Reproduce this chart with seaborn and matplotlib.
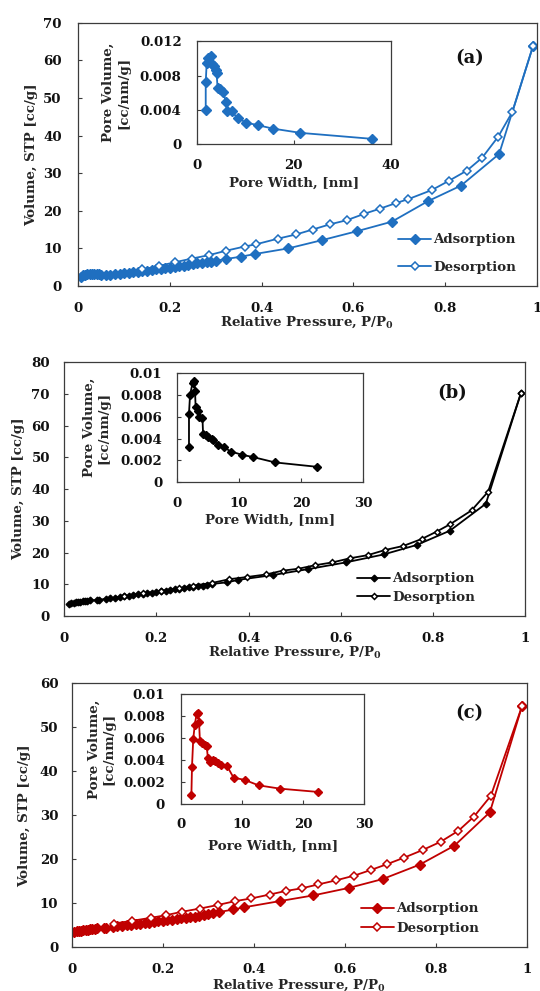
import matplotlib
matplotlib.use("Agg")
import matplotlib.pyplot as plt
import seaborn as sns

# ---------------- data ----------------
x_ticks = [0, 0.2, 0.4, 0.6, 0.8, 1.0]
x_ticklabels = ['0', '0.2', '0.4', '0.6', '0.8', '1']

# Panel (a)
ads_a_p = [0.005, 0.01, 0.015, 0.02, 0.025, 0.03, 0.035, 0.04, 0.045, 0.05,
           0.06, 0.07, 0.08, 0.09, 0.10,
           0.11, 0.12, 0.13, 0.14, 0.15, 0.16, 0.17, 0.18, 0.19, 0.20,
           0.21, 0.22, 0.23, 0.24, 0.25, 0.26, 0.27, 0.28, 0.29, 0.30,
           0.323, 0.355, 0.385, 0.458, 0.532, 0.609, 0.684, 0.762, 0.835, 0.918, 0.992]
ads_a_v = [2.5, 2.8, 3.0, 3.1, 3.2, 3.2, 3.2, 3.2, 3.1, 3.0,
           2.9, 3.0, 3.1, 3.3, 3.4,
           3.5, 3.6, 3.8, 3.9, 4.0, 4.2, 4.4, 4.6, 4.7, 4.9,
           5.1, 5.3, 5.4, 5.6, 5.8, 6.0, 6.2, 6.3, 6.5, 6.7,
           7.2, 7.8, 8.5, 10.0, 12.2, 14.6, 17.1, 22.5, 26.7, 35.1, 63.8]
des_a_p = [0.992, 0.947, 0.916, 0.881, 0.848, 0.809, 0.771, 0.720, 0.692, 0.659,
           0.624, 0.586, 0.549, 0.511, 0.475, 0.436, 0.388, 0.363, 0.323, 0.285,
           0.248, 0.210, 0.175, 0.140]
des_a_v = [63.8, 46.3, 39.7, 34.1, 30.7, 28.0, 25.5, 23.1, 22.0, 20.6,
           19.2, 17.5, 16.4, 15.0, 13.7, 12.6, 11.1, 10.5, 9.4, 8.2,
           7.3, 6.3, 5.3, 4.4]
pore_a_w = [1.86, 1.86, 2.06, 2.4, 2.9, 3.2, 3.6, 3.9, 4.1, 4.3, 4.9, 5.5, 6.0,
            6.3, 7.2, 8.5, 10.2, 12.6, 15.7, 21.4, 36.2]
pore_a_v = [0.0040, 0.0072, 0.0095, 0.0101, 0.0103, 0.0093, 0.0091, 0.0087, 0.0083,
            0.0066, 0.0064, 0.0061, 0.0049, 0.0038, 0.0038, 0.0030, 0.0025, 0.0022,
            0.0018, 0.0013, 0.0006]
y_ticks_a = [0, 10, 20, 30, 40, 50, 60, 70]
in_x_ticks_a = [0, 20, 40]
in_y_ticks_a = [0, 0.004, 0.008, 0.012]
in_y_labels_a = ['0', '0.004', '0.008', '0.012']

# Panel (b)
ads_b_p = [0.01, 0.015, 0.02, 0.025, 0.03, 0.035, 0.04, 0.045, 0.05, 0.055,
           0.07, 0.075, 0.09, 0.10,
           0.11, 0.12, 0.13, 0.14, 0.15, 0.16, 0.17, 0.18, 0.19, 0.20, 0.21,
           0.22, 0.23, 0.24, 0.25, 0.26, 0.27, 0.28, 0.29, 0.30, 0.31, 0.32,
           0.353, 0.378, 0.452, 0.53, 0.611, 0.693, 0.765, 0.837, 0.915, 0.991]
ads_b_v = [3.9, 4.0, 4.2, 4.3, 4.4, 4.5, 4.6, 4.7, 4.8, 4.9,
           5.0, 5.1, 5.4, 5.6,
           5.8, 6.0, 6.2, 6.4, 6.6, 6.8, 7.0, 7.2, 7.4, 7.6, 7.8,
           8.0, 8.2, 8.4, 8.6, 8.8, 9.0, 9.2, 9.4, 9.6, 9.9, 10.1,
           10.6, 11.4, 12.9, 14.8, 16.9, 19.4, 22.4, 26.9, 35.4, 70.2]
des_b_p = [0.991, 0.920, 0.884, 0.837, 0.808, 0.776, 0.736, 0.696, 0.659, 0.620,
           0.582, 0.544, 0.508, 0.474, 0.438, 0.397, 0.358, 0.32, 0.28, 0.25,
           0.21, 0.17, 0.13]
des_b_v = [70.2, 39.2, 33.3, 28.9, 26.6, 24.3, 22.1, 20.8, 19.2, 18.2,
           16.9, 16.0, 14.9, 14.3, 13.1, 12.3, 11.6, 10.4, 9.6, 8.8,
           7.9, 7.1, 6.3]
pore_b_w = [1.93, 1.93, 2.1, 2.5, 2.8, 2.9, 3.0, 3.4, 3.6, 4.1, 4.2, 4.7, 5.0,
            5.6, 5.8, 6.6, 7.5, 8.7, 10.5, 12.2, 15.8, 22.5]
pore_b_v = [0.0032, 0.0063, 0.0080, 0.0091, 0.0093, 0.0084, 0.0069, 0.0065, 0.0060,
            0.0059, 0.0044, 0.0043, 0.0041, 0.0040, 0.0039, 0.0034, 0.0032, 0.0028,
            0.0025, 0.0023, 0.0018, 0.0014]
y_ticks_b = [0, 10, 20, 30, 40, 50, 60, 70, 80]
in_x_ticks_b = [0, 10, 20, 30]
in_y_ticks_b = [0, 0.002, 0.004, 0.006, 0.008, 0.01]
in_y_labels_b = ['0', '0.002', '0.004', '0.006', '0.008', '0.01']

# Panel (c)
ads_c_p = [0.005, 0.01, 0.015, 0.02, 0.025, 0.03, 0.035, 0.04, 0.045, 0.05, 0.055,
           0.07, 0.075, 0.09, 0.10,
           0.11, 0.12, 0.13, 0.14, 0.15, 0.16, 0.17, 0.18, 0.19, 0.20, 0.21,
           0.22, 0.23, 0.24, 0.25, 0.26, 0.27, 0.28, 0.29, 0.30, 0.31,
           0.323, 0.355, 0.379, 0.457, 0.531, 0.609, 0.683, 0.765, 0.841, 0.919, 0.990]
ads_c_v = [3.4, 3.6, 3.7, 3.8, 3.9, 4.0, 4.0, 4.1, 4.2, 4.2, 4.3,
           4.4, 4.5, 4.7, 4.8,
           4.9, 5.0, 5.1, 5.3, 5.4, 5.5, 5.6, 5.8, 5.9, 6.0, 6.2,
           6.3, 6.4, 6.6, 6.7, 6.9, 7.0, 7.2, 7.4, 7.6, 7.8,
           8.0, 8.6, 9.1, 10.5, 11.8, 13.5, 15.5, 18.8, 23.1, 30.7, 54.9]
des_c_p = [0.990, 0.921, 0.884, 0.850, 0.811, 0.771, 0.731, 0.693, 0.658, 0.621,
           0.580, 0.542, 0.505, 0.470, 0.435, 0.394, 0.359, 0.320, 0.281, 0.243,
           0.207, 0.173, 0.131, 0.092]
des_c_v = [54.9, 34.4, 29.7, 26.5, 24.0, 22.1, 20.4, 18.9, 17.6, 16.3,
           15.2, 14.3, 13.4, 12.8, 12.0, 11.1, 10.5, 9.6, 8.8, 8.1,
           7.3, 6.7, 6.0, 5.4]
pore_c_w = [1.7, 1.8, 2.0, 2.25, 2.55, 2.75, 2.95, 3.1, 3.5, 3.85, 4.2, 4.4, 4.8,
            5.2, 5.6, 6.0, 6.6, 7.5, 8.6, 10.4, 12.7, 16.2, 22.4]
pore_c_v = [0.0008, 0.0034, 0.0059, 0.0072, 0.0082, 0.0083, 0.0075, 0.0057, 0.0056,
            0.0054, 0.0053, 0.0042, 0.0038, 0.0040, 0.0039, 0.0037, 0.0036, 0.0035,
            0.0024, 0.0022, 0.0017, 0.0014, 0.0011]
y_ticks_c = [0, 10, 20, 30, 40, 50, 60]
in_x_ticks_c = [0, 10, 20, 30]
in_y_ticks_c = [0, 0.002, 0.004, 0.006, 0.008, 0.01]
in_y_labels_c = ['0', '0.002', '0.004', '0.006', '0.008', '0.01']

series_labels = ['Adsorption', 'Desorption']
panel_tags = ['(a)', '(b)', '(c)']

# ---------------- style ----------------
sns.set_theme(style="white")
plt.rcParams['font.family'] = ['DejaVu Serif']
plt.rcParams['font.weight'] = 'bold'
plt.rcParams['axes.labelweight'] = 'bold'
plt.rcParams['mathtext.fontset'] = 'dejavuserif'

W, H = 540, 991
fig = plt.figure(figsize=(W / 100, H / 100), dpi=100)
P2PT = 0.72  # pixel -> point at dpi 100
FRAME = '#3c3c3c'
FS = 9.6


def add_ax(l, t, r, b):
    return fig.add_axes([l / W, 1 - b / H, (r - l) / W, (b - t) / H])


def style_axes(ax, rect, xpad_px, ypad_px):
    for s in ax.spines.values():
        s.set_visible(True)
        s.set_color(FRAME)
        s.set_linewidth(0.9)
    ax.tick_params(axis='x', direction='in', length=3, width=0.8, color=FRAME,
                   bottom=True, top=False, pad=xpad_px * P2PT, labelsize=FS,
                   labelcolor='#111111')
    ax.tick_params(axis='y', direction='in', length=3, width=0.8, color=FRAME,
                   left=True, right=False, pad=ypad_px * P2PT, labelsize=FS,
                   labelcolor='#111111')
    for lab in ax.get_xticklabels() + ax.get_yticklabels():
        lab.set_fontweight('bold')


def place_labels(ax, rect, xl_y, yl_x):
    l, t, r, b = rect
    ax.xaxis.label.set_verticalalignment('center')
    ax.yaxis.label.set_verticalalignment('center')
    ax.xaxis.set_label_coords(0.5, (b - xl_y) / (b - t))
    ax.yaxis.set_label_coords((yl_x - l) / (r - l), 0.5)


def panel(main_rect, inset_rect, color, ads_p, ads_v, des_p, des_v, pw, pv,
          yticks, ixt, iyt, iyl, ms_a, ms_d, ms_i, lw, tag, tag_xy,
          xl_y, yl_x, ixl_y, iyl_x, main_pads, inset_pads,
          leg_x, leg_y, labelspacing):
    ax = add_ax(*main_rect)
    sns.lineplot(x=ads_p, y=ads_v, ax=ax, sort=False, estimator=None, errorbar=None,
                 color=color, lw=lw, marker='D', ms=ms_a, mfc=color, mec=color,
                 mew=1.0, legend=False)
    sns.lineplot(x=des_p, y=des_v, ax=ax, sort=False, estimator=None, errorbar=None,
                 color=color, lw=lw, marker='D', ms=ms_d, mfc='white', mec=color,
                 mew=1.1, legend=False)
    ax.set_xlim(0, 1)
    ax.set_ylim(yticks[0], yticks[-1])
    ax.set_xticks(x_ticks)
    ax.set_xticklabels(x_ticklabels)
    ax.set_yticks(yticks)
    ax.set_yticklabels([str(v) for v in yticks])
    ax.set_xlabel(r'Relative Pressure, P/P$_{\mathbf{0}}$', fontsize=FS, fontweight='bold')
    ax.set_ylabel('Volume, STP [cc/g]', fontsize=FS, fontweight='bold')
    style_axes(ax, main_rect, *main_pads)
    place_labels(ax, main_rect, xl_y, yl_x)
    l, t, r, b = main_rect
    ax.text((tag_xy[0] - l) / (r - l), (b - tag_xy[1]) / (b - t), tag,
            transform=ax.transAxes, ha='center', va='center', fontsize=13,
            fontweight='bold', color='#111111')
    lines = ax.get_lines()
    ax.legend(lines[:2], series_labels, loc='center left', frameon=False,
              bbox_to_anchor=(leg_x / W, 1 - leg_y / H), bbox_transform=fig.transFigure,
              borderpad=0, borderaxespad=0, handlelength=2.5, handletextpad=0.15,
              labelspacing=labelspacing, prop={'family': 'DejaVu Serif',
                                               'weight': 'bold', 'size': FS})

    ia = add_ax(*inset_rect)
    ia.set_facecolor('white')
    sns.lineplot(x=pw, y=pv, ax=ia, sort=False, estimator=None, errorbar=None,
                 color=color, lw=lw, marker='D', ms=ms_i, mfc=color, mec=color,
                 mew=1.0, legend=False)
    ia.set_xlim(ixt[0], ixt[-1])
    ia.set_ylim(iyt[0], iyt[-1])
    ia.set_xticks(ixt)
    ia.set_xticklabels([str(v) for v in ixt])
    ia.set_yticks(iyt)
    ia.set_yticklabels(iyl)
    ia.set_xlabel('Pore Width, [nm]', fontsize=FS, fontweight='bold')
    ia.set_ylabel('Pore Volume,\n[cc/nm/g]', fontsize=FS, fontweight='bold',
                  linespacing=1.2)
    style_axes(ia, inset_rect, *inset_pads)
    place_labels(ia, inset_rect, ixl_y, iyl_x)
    ia.yaxis.label.set_horizontalalignment('center')
    ia.yaxis.label.set_multialignment('center')
    return ax, ia


panel((78.3, 22.7, 536.7, 286), (196.7, 41.3, 390.7, 144), '#1f6fc0',
      ads_a_p, ads_a_v, des_a_p, des_a_v, pore_a_w, pore_a_v,
      y_ticks_a, in_x_ticks_a, in_y_ticks_a, in_y_labels_a,
      4.8, 4.5, 4.6, 1.3, panel_tags[0], (470, 58),
      322, 32, 183, 116, (15.5, 16.5), (14.5, 15), 398, 253.5, 1.1)

panel((64.3, 362.3, 525, 616), (177, 373.3, 363.3, 482), '#000000',
      ads_b_p, ads_b_v, des_b_p, des_b_v, pore_b_w, pore_b_v,
      y_ticks_b, in_x_ticks_b, in_y_ticks_b, in_y_labels_b,
      3.4, 3.0, 3.8, 1.3, panel_tags[1], (452, 393),
      652.7, 18.5, 520, 96.7, (15.5, 14.3), (15, 14.7), 357, 588, 0.4)

panel((72, 683.3, 526.7, 947.3), (181, 694.3, 364.3, 804), '#c00000',
      ads_c_p, ads_c_v, des_c_p, des_c_v, pore_c_w, pore_c_v,
      y_ticks_c, in_x_ticks_c, in_y_ticks_c, in_y_labels_c,
      4.8, 4.3, 4.2, 1.3, panel_tags[2], (469, 713),
      985, 25, 846.7, 101.3, (15.7, 13.7), (14.5, 16), 360.7, 918.5, 0.48)

fig.savefig('out.png', dpi=100, facecolor='white')
